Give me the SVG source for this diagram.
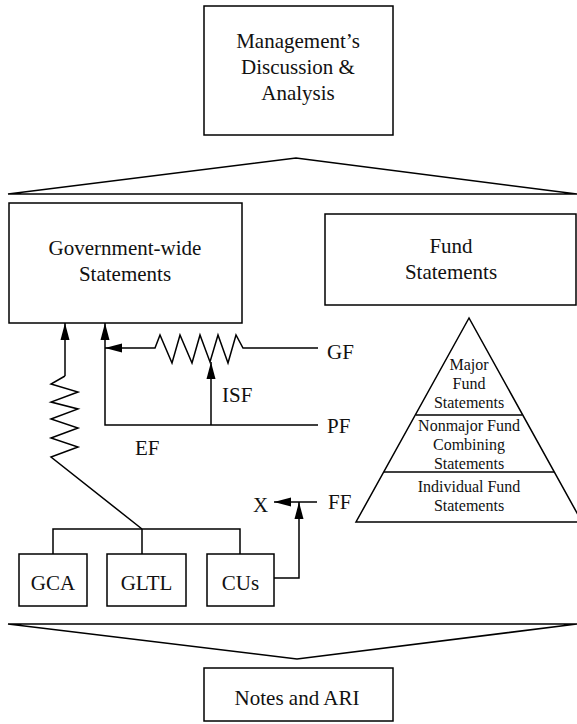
<svg xmlns="http://www.w3.org/2000/svg" width="577" height="724" viewBox="0 0 577 724">
  <style>
    .box { fill: #fff; stroke: #000; stroke-width: 1.5; }
    .ln { fill: none; stroke: #000; stroke-width: 1.5; stroke-linejoin: miter; }
    .t { font-family: "Liberation Serif", "Times New Roman", serif; font-size: 21px; fill: #111; text-anchor: middle; }
    .lbl { font-family: "Liberation Serif", "Times New Roman", serif; font-size: 21px; fill: #111; }
    .s { font-family: "Liberation Serif", "Times New Roman", serif; font-size: 16px; fill: #111; text-anchor: middle; }
  </style>
  <defs>
    <marker id="arrow" markerUnits="userSpaceOnUse" markerWidth="18" markerHeight="10" refX="17" refY="5" orient="auto">
      <path d="M0,0.5 L17,5 L0,9.5 z" fill="#000"/>
    </marker>
  </defs>

  <rect width="577" height="724" fill="#fff"/>

  <!-- Header -->
  <g id="mda">
    <rect class="box" x="204" y="6" width="189" height="129"/>
    <text class="t" x="298" y="48">Management’s</text>
    <text class="t" x="298" y="74">Discussion &amp;</text>
    <text class="t" x="298" y="100">Analysis</text>
  </g>

  <!-- Expanding chevron below header -->
  <g id="chevron-top">
    <polygon class="ln" points="8,194 296,158 577,194" stroke-width="1.6"/>
  </g>

  <g id="govwide">
    <rect class="box" x="9" y="203" width="233" height="120"/>
    <text class="t" x="125" y="255">Government-wide</text>
    <text class="t" x="125" y="281">Statements</text>
  </g>

  <g id="fund">
    <rect class="box" x="325" y="214" width="251" height="91"/>
    <text class="t" x="451" y="253">Fund</text>
    <text class="t" x="451" y="279">Statements</text>
  </g>

  <!-- Fund pyramid -->
  <g id="pyramid">
    <polygon class="ln" points="469,318 356,522 582,522"/>
    <line class="ln" x1="416" y1="415" x2="522" y2="415"/>
    <line class="ln" x1="384" y1="472" x2="554" y2="472"/>
    <text class="s" x="469" y="370">Major</text>
    <text class="s" x="469" y="389">Fund</text>
    <text class="s" x="469" y="408">Statements</text>
    <text class="s" x="469" y="431">Nonmajor Fund</text>
    <text class="s" x="469" y="450">Combining</text>
    <text class="s" x="469" y="469">Statements</text>
    <text class="s" x="469" y="492">Individual Fund</text>
    <text class="s" x="469" y="511">Statements</text>
  </g>

  <g id="gca">
    <rect class="box" x="19" y="554" width="68" height="52"/>
    <text class="t" x="53" y="590">GCA</text>
  </g>
  <g id="gltl">
    <rect class="box" x="107" y="554" width="79" height="52"/>
    <text class="t" x="146.5" y="590">GLTL</text>
  </g>
  <g id="cus">
    <rect class="box" x="207" y="554" width="67" height="52"/>
    <text class="t" x="240.5" y="590">CUs</text>
  </g>

  <!-- Connectors -->
  <g id="connectors">
    <!-- EF path with resistor -->
    <path class="ln" d="M65,376 V323" marker-end="url(#arrow)"/>
    <polyline class="ln" points="65,376 51,384 78,392 51,402 78,409 51,419 78,428 51,438 78,447 51,457 142,529"/>
    <path class="ln" d="M53,554 V529 H240 V554 M142,529 V554"/>
    <!-- PF loop -->
    <path class="ln" d="M318,425 H105 V323" marker-end="url(#arrow)"/>
    <!-- GF through variable resistor -->
    <path class="ln" d="M318,348 H243 L236,335 L228,363 L218,335 L210,362 L200,335 L192,363 L180,335 L172,363 L160,335 L155,348 H105" marker-end="url(#arrow)"/>
    <!-- ISF wiper -->
    <path class="ln" d="M211,425 V362" marker-end="url(#arrow)"/>
    <!-- CUs to FF -->
    <path class="ln" d="M274,578 H299 V502" marker-end="url(#arrow)"/>
    <path class="ln" d="M317,502 H274" marker-end="url(#arrow)"/>
  </g>

  <g id="labels">
    <text class="lbl" x="327" y="359">GF</text>
    <text class="lbl" x="222" y="402">ISF</text>
    <text class="lbl" x="327" y="433">PF</text>
    <text class="lbl" x="135" y="455">EF</text>
    <text class="lbl" x="328" y="509">FF</text>
    <text class="lbl" x="253" y="512">X</text>
  </g>

  <!-- Narrowing chevron above notes -->
  <g id="chevron-bottom">
    <polygon class="ln" points="8,624 297,659 577,624" stroke-width="1.6"/>
  </g>

  <g id="notes">
    <rect class="box" x="204" y="668" width="189" height="53"/>
    <text class="t" x="297" y="705">Notes and ARI</text>
  </g>
</svg>
